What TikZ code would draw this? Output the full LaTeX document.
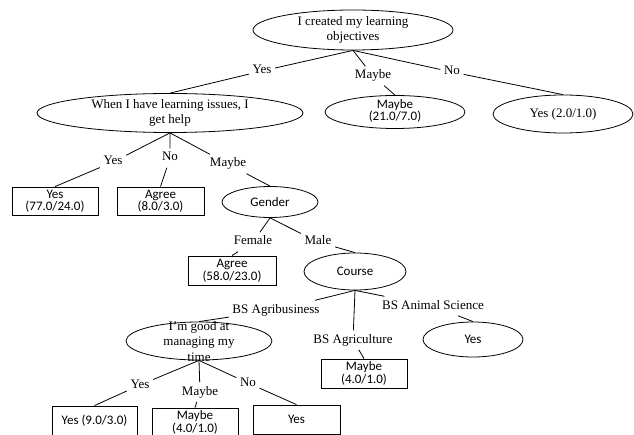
\documentclass[tikz,border=0pt]{standalone}
\usepackage{fontspec}
\setmainfont{Liberation Serif}
\newfontfamily\calib{Carlito}
\usetikzlibrary{shapes.geometric}
\begin{document}
\begin{tikzpicture}[x=1pt,y=-1pt,
 every node/.style={font=\fontsize{13}{15}\selectfont},
 ell/.style={ellipse,draw,line width=0.8pt,inner sep=0pt},
 txt/.style={align=center,inner sep=0pt},
 box/.style={rectangle,draw,line width=0.8pt,inner sep=0pt,align=center,font=\calib\fontsize{13}{12.5}\selectfont},
 sans/.style={font=\calib\fontsize{13}{12.5}\selectfont,align=center,inner sep=0pt},
 lbl/.style={inner sep=3.5pt,text height=9pt,text depth=3pt},
 conn/.style={line width=0.8pt}]
\useasboundingbox (0,0) rectangle (634,435);

% level 0
\node[ell,minimum width=200pt,minimum height=40pt] (root) at (353,30) {};
\node[txt] (rootT) at (353,30) {I created my learning\\objectives};

% level 1
\node[ell,minimum width=266pt,minimum height=39pt] (when) at (170,113) {};
\node[txt] (whenT) at (170,113) {When I have learning issues, I\\get help};
\node[ell,minimum width=140pt,minimum height=33pt] (mayE) at (395,112) {};
\node[sans] (mayET) at (395,111) {Maybe\\(21.0/7.0)};
\node[ell,minimum width=140pt,minimum height=38pt] (yesE) at (563,114) {Yes (2.0/1.0)};

% level 2
\node[box,minimum width=86pt,minimum height=28pt] (b1) at (55,201) {Yes\\(77.0/24.0)};
\node[box,minimum width=87pt,minimum height=28pt] (b2) at (160.5,201) {Agree\\(8.0/3.0)};
\node[ell,minimum width=96pt,minimum height=31pt,font=\calib\fontsize{13}{12.5}\selectfont] (gender) at (270,202) {Gender};

% level 3
\node[box,minimum width=88pt,minimum height=29pt] (b3) at (232,270.5) {Agree\\(58.0/23.0)};
\node[ell,minimum width=102pt,minimum height=37pt,font=\calib\fontsize{13}{12.5}\selectfont] (course) at (355,271.5) {Course};

% level 4
\node[ell,minimum width=146pt,minimum height=38pt] (good) at (199,341) {};
\node[txt,font=\fontsize{13}{15.5}\selectfont] (goodT) at (199,341.5) {I'm good at\\managing my\\time};
\node[box,minimum width=86pt,minimum height=29pt] (b4) at (364,373.5) {Maybe\\(4.0/1.0)};
\node[ell,minimum width=100pt,minimum height=35pt,font=\calib\fontsize{13}{12.5}\selectfont] (yesE2) at (473,339.5) {Yes};

% level 5
\node[box,minimum width=85pt,minimum height=30pt] (b5) at (94.5,421) {Yes (9.0/3.0)};
\node[box,minimum width=86pt,minimum height=29pt] (b6) at (195,422.5) {Maybe\\(4.0/1.0)};
\node[box,minimum width=87pt,minimum height=29pt] (b7) at (296.5,419.5) {Yes};

% labels
\node[lbl] (lYes1) at (262,71) {Yes};
\node[lbl] (lMay1) at (373,76) {Maybe};
\node[lbl] (lNo1) at (452,72) {No};
\node[lbl] (lYes2) at (113,162) {Yes};
\node[lbl] (lNo2) at (170,158) {No};
\node[lbl] (lMay2) at (228,164) {Maybe};
\node[lbl] (lFem) at (253,242) {Female};
\node[lbl] (lMale) at (318,242) {Male};
\node[lbl] (lAgb) at (276,310) {BS Agribusiness};
\node[lbl] (lAgc) at (353,340) {BS Agriculture};
\node[lbl] (lAni) at (433,306) {BS Animal Science};
\node[lbl] (lYes3) at (140,385) {Yes};
\node[lbl] (lMay3) at (200,392) {Maybe};
\node[lbl] (lNo3) at (248,383) {No};

% connectors
\draw[conn] (root.south) -- (lYes1) -- (when.north);
\draw[conn] (root.south) -- (lMay1) -- (mayE.north);
\draw[conn] (root.south) -- (lNo1) -- (yesE.north);
\draw[conn] (when.south) -- (lYes2) -- (b1.north);
\draw[conn] (when.south) -- (lNo2) -- (b2.north);
\draw[conn] (when.south) -- (lMay2) -- (gender.north);
\draw[conn] (gender.south) -- (lFem) -- (b3.north);
\draw[conn] (gender.south) -- (lMale) -- (course.north);
\draw[conn] (course.south) -- (lAgb) -- (good.north);
\draw[conn] (course.south) -- (lAgc) -- (b4.north);
\draw[conn] (course.south) -- (lAni) -- (yesE2.north);
\draw[conn] (good.south) -- (lYes3) -- (b5.north);
\draw[conn] (good.south) -- (lMay3) -- (b6.north);
\draw[conn] (good.south) -- (lNo3) -- (b7.north);
\end{tikzpicture}
\end{document}
